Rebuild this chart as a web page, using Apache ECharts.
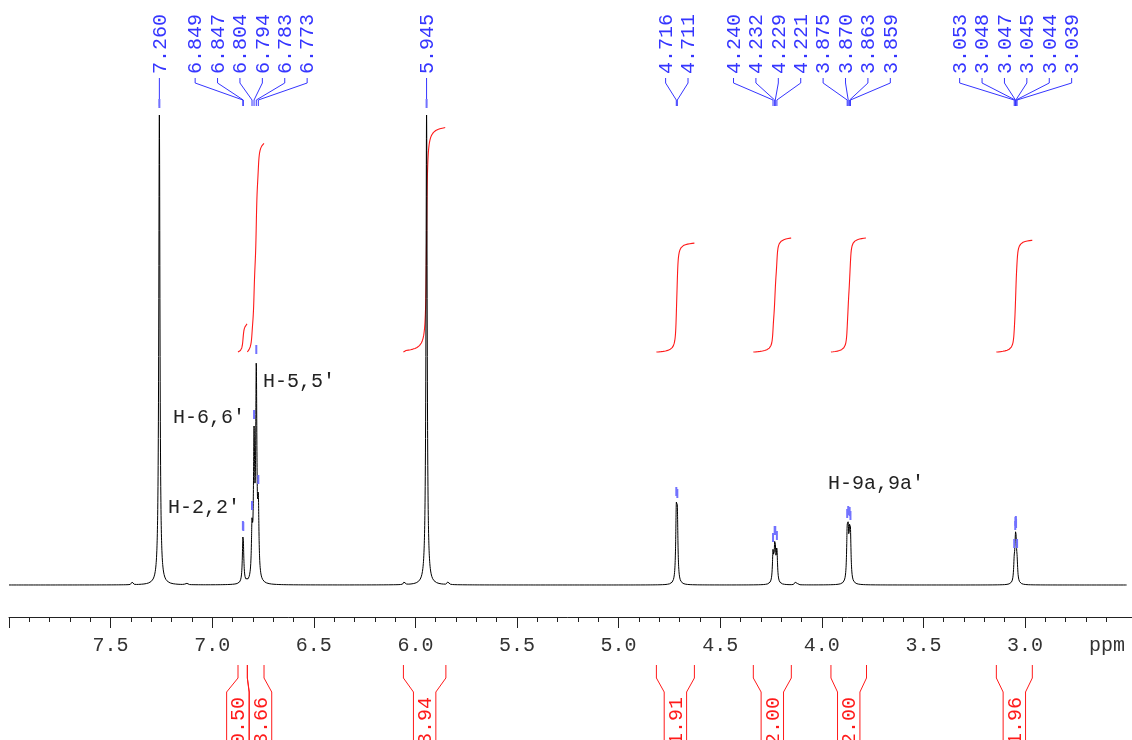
<!DOCTYPE html>
<html>
<head>
<meta charset="utf-8">
<script src="https://cdn.jsdelivr.net/npm/echarts@6/dist/echarts.min.js"></script>
<style>
  html, body { margin: 0; padding: 0; background: #fff; }
  #chart { width: 1132px; height: 740px; }
</style>
</head>
<body>
<div id="chart"></div>
<script>
// Picked lines: chemical shift (ppm) and apparent peak height (a.u.)
const peakShifts = [7.260, 6.849, 6.847, 6.804, 6.794, 6.783, 6.773, 5.945,
  4.716, 4.711, 4.240, 4.232, 4.229, 4.221, 3.875, 3.870, 3.863, 3.859,
  3.053, 3.048, 3.047, 3.045, 3.044, 3.039];
const peakHeights = [470, 48, 47, 68, 159, 224, 94, 470,
  82, 80, 36, 43, 43, 38, 60, 63, 62, 58,
  30, 48, 52, 53, 50, 30];

// Small unlabelled lines (satellites, trace impurity)
const minorShifts = [7.393, 7.128, 6.054, 5.838, 4.130, 4.124];
const minorHeights = [3, 3, 4, 4, 3, 3];

// Integral regions (ppm) and their values
const integralFrom = [6.873, 6.827, 6.059, 4.814, 4.337, 3.955, 3.141];
const integralTo = [6.827, 6.745, 5.850, 4.627, 4.150, 3.780, 2.964];
const integralValues = [0.50, 3.66, 3.94, 1.91, 2.00, 2.00, 1.96];

// Axis ticks
const majorTicks = [8.0, 7.5, 7.0, 6.5, 6.0, 5.5, 5.0, 4.5, 4.0, 3.5, 3.0];
const tickLabels = ['7.5', '7.0', '6.5', '6.0', '5.5', '5.0', '4.5', '4.0', '3.5', '3.0'];

// Signal assignments
const assignLabels = ["H-5,5'", "H-6,6'", "H-2,2'", "H-9a,9a'"];

const PPM_MAX = 8.0, PPM_MIN = 2.5;
const Y_MIN = -32, Y_MAX = 470;          // spectrum intensity axis
const INT_MIN = -4.649, INT_MAX = 4.158; // integral axis
const MONO = '"Liberation Mono", "DejaVu Sans Mono", monospace';
const BLUE = '#3535ff';
const RED = '#ff1a1a';

// Lorentzian line shape
const HW = 0.0035;
function lorentz(d) { return HW * HW / (d * d + HW * HW); }

const allShifts = peakShifts.concat(minorShifts);
const allTops = peakHeights.concat(minorHeights);
const n = allShifts.length;

// Line amplitudes so that the summed trace reaches each stated height
const amp = allTops.slice();
for (let it = 0; it < 600; it++) {
  for (let i = 0; i < n; i++) {
    let s = 0;
    for (let j = 0; j < n; j++) if (j !== i) s += amp[j] * lorentz(allShifts[i] - allShifts[j]);
    amp[i] = Math.max(0, allTops[i] - s);
  }
}
function intensity(x) {
  let s = 0;
  for (let i = 0; i < n; i++) s += amp[i] * lorentz(x - allShifts[i]);
  return s;
}

// Sampling grid: coarse everywhere, fine around each line
const gridSet = new Set();
for (let k = 0; k <= 1375; k++) gridSet.add(+(PPM_MAX - k * 0.004).toFixed(4));
allShifts.forEach(p => {
  for (let k = -100; k <= 100; k++) gridSet.add(+(p + k * 0.0004).toFixed(5));
  gridSet.add(p);
});
const xs = Array.from(gridSet).filter(x => x <= PPM_MAX && x >= PPM_MIN).sort((a, b) => b - a);
const spectrum = xs.map(x => [x, intensity(x)]);

// Integral curves (running integral over each region, scaled to its value)
const integralCurves = integralFrom.map((hi, k) => {
  const lo = integralTo[k];
  const steps = 500, step = (hi - lo) / steps;
  let cum = 0, prev = intensity(hi);
  const pts = [[hi, 0]];
  for (let i = 1; i <= steps; i++) {
    const x = hi - i * step, cur = intensity(x);
    cum += (prev + cur) / 2 * step;
    prev = cur;
    pts.push([x, cum]);
  }
  const scale = integralValues[k] / cum;
  return pts.map(p => [p[0], p[1] * scale]);
});

// Spread label slots so neighbours keep a minimum gap, centred on their targets
function spread(targets, gap) {
  const blocks = targets.map(t => ({ n: 1, sum: t }));
  let merged = true;
  while (merged) {
    merged = false;
    for (let k = 0; k < blocks.length - 1; k++) {
      const a = blocks[k], b = blocks[k + 1];
      const aEnd = a.sum / a.n + (a.n - 1) / 2 * gap;
      const bStart = b.sum / b.n - (b.n - 1) / 2 * gap;
      if (bStart - aEnd < gap - 1e-6) {
        a.n += b.n; a.sum += b.sum; blocks.splice(k + 1, 1); merged = true; break;
      }
    }
  }
  const out = [];
  blocks.forEach(b => {
    const c = b.sum / b.n;
    for (let i = 0; i < b.n; i++) out.push(c + (i - (b.n - 1) / 2) * gap);
  });
  return out;
}

// Shift labels above the spectrum with connectors and peak-pick markers
function renderShiftLabels(params, api) {
  if (params.dataIndex !== 0) return null;
  const top = api.coord([PPM_MAX, Y_MAX])[1];
  const px = peakShifts.map(p => api.coord([p, 0])[0]);
  const lx = spread(px, 22.4);
  const children = [];
  peakShifts.forEach((p, i) => {
    children.push({
      type: 'polyline',
      shape: { points: [[lx[i], top - 37], [lx[i], top - 32], [px[i], top - 15], [px[i], top - 9]] },
      style: { stroke: BLUE, lineWidth: 1, fill: null }
    });
    children.push({
      type: 'text', x: lx[i] + 1, y: top - 41, rotation: Math.PI / 2,
      style: { text: p.toFixed(3), font: '20px ' + MONO, fill: BLUE, align: 'left', verticalAlign: 'middle' }
    });
    const ty = Math.max(top, api.coord([p, intensity(p)])[1]);
    children.push({
      type: 'line',
      shape: { x1: px[i], y1: ty - 16, x2: px[i], y2: ty - 7 },
      style: { stroke: '#7272ff', lineWidth: 2 }
    });
  });
  return { type: 'group', children };
}

// Integral brackets and values below the axis
function renderIntegralLabels(params, api) {
  if (params.dataIndex !== 0) return null;
  const bottom = api.coord([PPM_MAX, Y_MIN])[1];
  const xl = integralFrom.map(p => api.coord([p, 0])[0]);
  const xr = integralTo.map(p => api.coord([p, 0])[0]);
  const c = spread(xl.map((v, i) => (v + xr[i]) / 2), 22.7);
  const half = 11.2;
  const children = [];
  integralValues.forEach((v, i) => {
    children.push({
      type: 'polyline',
      shape: { points: [[xl[i], bottom + 48], [xl[i], bottom + 61], [c[i] - half, bottom + 75], [c[i] - half, bottom + 130]] },
      style: { stroke: RED, lineWidth: 1, fill: null }
    });
    children.push({
      type: 'polyline',
      shape: { points: [[xr[i], bottom + 48], [xr[i], bottom + 61], [c[i] + half, bottom + 75], [c[i] + half, bottom + 130]] },
      style: { stroke: RED, lineWidth: 1, fill: null }
    });
    children.push({
      type: 'text', x: c[i] + 1, y: bottom + 104, rotation: Math.PI / 2,
      style: { text: v.toFixed(2), font: '20px ' + MONO, fill: RED, align: 'center', verticalAlign: 'middle' }
    });
  });
  return { type: 'group', children };
}

const chart = echarts.init(document.getElementById('chart'), null, { renderer: 'canvas' });

const series = [
  {
    type: 'line', name: 'spectrum', xAxisIndex: 0, yAxisIndex: 0,
    data: spectrum, showSymbol: false, symbol: 'none', sampling: null,
    lineStyle: { color: '#000', width: 1 }, z: 3
  }
];
integralCurves.forEach((pts, k) => {
  series.push({
    type: 'line', name: 'integral ' + k, xAxisIndex: 0, yAxisIndex: 1,
    data: pts, showSymbol: false, symbol: 'none',
    lineStyle: { color: RED, width: 1.1 }, z: 2
  });
});
series.push({
  type: 'custom', name: 'shifts', xAxisIndex: 0, yAxisIndex: 0, clip: false,
  data: [0], renderItem: renderShiftLabels, z: 4
});
series.push({
  type: 'custom', name: 'integral labels', xAxisIndex: 0, yAxisIndex: 0, clip: false,
  data: [0], renderItem: renderIntegralLabels, z: 4
});

chart.setOption({
  animation: false,
  backgroundColor: '#fff',
  grid: { left: 9, right: 5.4, top: 115, bottom: 123 },
  xAxis: {
    type: 'value', inverse: true, min: PPM_MIN, max: PPM_MAX, interval: 0.5,
    axisLine: { show: true, onZero: false, lineStyle: { color: '#222', width: 1 } },
    axisTick: { show: true, length: 11, customValues: majorTicks, lineStyle: { color: '#222' } },
    minorTick: { show: true, splitNumber: 5, length: 5, lineStyle: { color: '#222' } },
    axisLabel: {
      customValues: tickLabels.map(Number),
      formatter: v => tickLabels.find(t => Number(t) === v) || '',
      color: '#333', fontFamily: MONO, fontSize: 20, margin: 19
    },
    splitLine: { show: false }, minorSplitLine: { show: false }
  },
  yAxis: [
    { type: 'value', min: Y_MIN, max: Y_MAX, show: false },
    { type: 'value', min: INT_MIN, max: INT_MAX, show: false }
  ],
  graphic: [
    { type: 'line', shape: { x1: 1126, y1: 617.5, x2: 1132, y2: 617.5 }, style: { stroke: '#222', lineWidth: 1 } },
    { type: 'text', x: 1107, y: 646, style: { text: 'ppm', font: '20px ' + MONO, fill: '#333', align: 'center', verticalAlign: 'middle' } },
    { type: 'text', x: 263, y: 382, style: { text: assignLabels[0], font: '20px ' + MONO, fill: '#222', align: 'left', verticalAlign: 'middle' } },
    { type: 'text', x: 173, y: 418, style: { text: assignLabels[1], font: '20px ' + MONO, fill: '#222', align: 'left', verticalAlign: 'middle' } },
    { type: 'text', x: 168, y: 508, style: { text: assignLabels[2], font: '20px ' + MONO, fill: '#222', align: 'left', verticalAlign: 'middle' } },
    { type: 'text', x: 828, y: 484, style: { text: assignLabels[3], font: '20px ' + MONO, fill: '#222', align: 'left', verticalAlign: 'middle' } }
  ],
  series
});
</script>
</body>
</html>
